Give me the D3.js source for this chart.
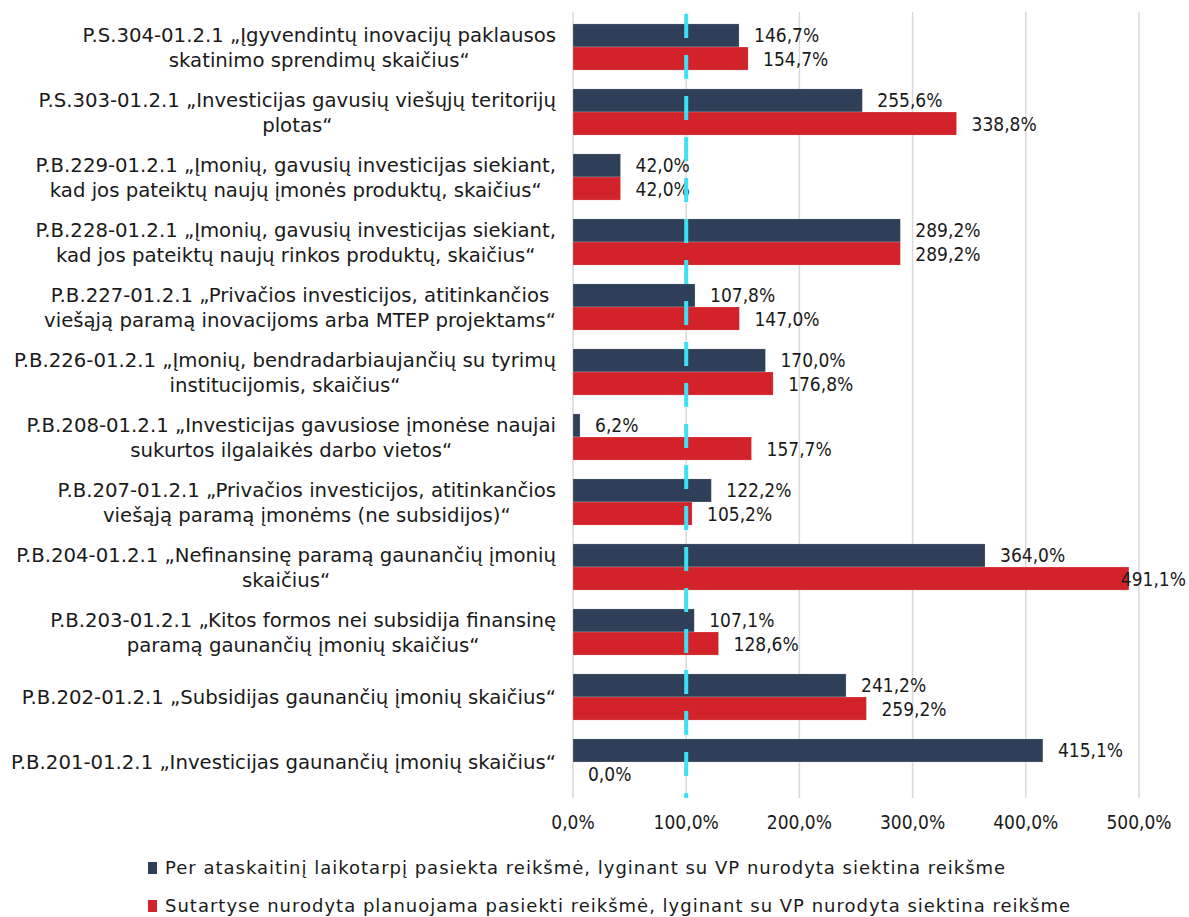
<!DOCTYPE html>
<html>
<head>
<meta charset="utf-8">
<script src="https://cdn.jsdelivr.net/npm/d3@7/dist/d3.min.js"></script>
<style>
  body { margin: 0; background: #fff; }
  text { font-family: "DejaVu Sans Condensed", "DejaVu Sans", sans-serif; fill: #1a1a1a; }
  .cat, .leg { font-family: "DejaVu Sans", sans-serif; }
</style>
</head>
<body>
<div id="chart"></div>
<script>
// Data
var categories = [
  ["P.S.304-01.2.1 „Įgyvendintų inovacijų paklausos", "skatinimo sprendimų skaičius“"],
  ["P.S.303-01.2.1 „Investicijas gavusių viešųjų teritorijų", "plotas“"],
  ["P.B.229-01.2.1 „Įmonių, gavusių investicijas siekiant,", "kad jos pateiktų naujų įmonės produktų, skaičius“"],
  ["P.B.228-01.2.1 „Įmonių, gavusių investicijas siekiant,", "kad jos pateiktų naujų rinkos produktų, skaičius“"],
  ["P.B.227-01.2.1 „Privačios investicijos, atitinkančios", "viešąją paramą inovacijoms arba MTEP projektams“"],
  ["P.B.226-01.2.1 „Įmonių, bendradarbiaujančių su tyrimų", "institucijomis, skaičius“"],
  ["P.B.208-01.2.1 „Investicijas gavusiose įmonėse naujai", "sukurtos ilgalaikės darbo vietos“"],
  ["P.B.207-01.2.1 „Privačios investicijos, atitinkančios", "viešąją paramą įmonėms (ne subsidijos)“"],
  ["P.B.204-01.2.1 „Nefinansinę paramą gaunančių įmonių", "skaičius“"],
  ["P.B.203-01.2.1 „Kitos formos nei subsidija finansinę", "paramą gaunančių įmonių skaičius“"],
  ["P.B.202-01.2.1 „Subsidijas gaunančių įmonių skaičius“"],
  ["P.B.201-01.2.1 „Investicijas gaunančių įmonių skaičius“"]
];
var achieved = [146.7, 255.6, 42.0, 289.2, 107.8, 170.0, 6.2, 122.2, 364.0, 107.1, 241.2, 415.1];
var planned  = [154.7, 338.8, 42.0, 289.2, 147.0, 176.8, 157.7, 105.2, 491.1, 128.6, 259.2, 0.0];
var seriesNames = [
  "Per ataskaitinį laikotarpį pasiekta reikšmė, lyginant su VP nurodyta siektina reikšme",
  "Sutartyse nurodyta planuojama pasiekti reikšmė, lyginant su VP nurodyta siektina reikšme"
];
var ticks = [0, 100, 200, 300, 400, 500];
var targetLine = 100;
var colors = ["#2f3f57", "#d2232a"];

var W = 1189, H = 917;
var svg = d3.select("#chart").append("svg").attr("width", W).attr("height", H);

var x = d3.scaleLinear().domain([0, 500]).range([573, 1139]);
var y = d3.scaleBand().domain(d3.range(categories.length)).range([14.5, 794.5])
  .paddingInner(0.29).paddingOuter(0.145);
var ySub = d3.scaleBand().domain([0, 1]).range([0, y.bandwidth()]);

var fmt = function(v) { return v.toFixed(1).replace(".", ",") + "%"; };

// gridlines
svg.append("g").selectAll("line").data(ticks).join("line")
  .attr("x1", d => x(d)).attr("x2", d => x(d))
  .attr("y1", 12).attr("y2", 798)
  .attr("stroke", "#d9d9d9").attr("stroke-width", 1.5);

// tick labels
svg.append("g").selectAll("text").data(ticks).join("text")
  .attr("x", d => x(d)).attr("y", 829)
  .attr("text-anchor", "middle").attr("font-size", 19)
  .text(d => fmt(d));

// bars
var rows = categories.map((c, i) => ({i: i, vals: [achieved[i], planned[i]]}));
var g = svg.append("g").selectAll("g").data(rows).join("g")
  .attr("transform", d => "translate(0," + y(d.i) + ")");

g.selectAll("rect").data(d => d.vals.map((v, s) => ({v: v, s: s}))).join("rect")
  .attr("x", x(0)).attr("y", d => ySub(d.s))
  .attr("width", d => x(d.v) - x(0)).attr("height", ySub.bandwidth())
  .attr("fill", d => colors[d.s])
  .attr("stroke", "rgba(255,255,255,0.4)").attr("stroke-width", 0.5);

// 100% dashed target line
svg.append("line")
  .attr("x1", x(targetLine)).attr("x2", x(targetLine))
  .attr("y1", 14).attr("y2", 798)
  .attr("stroke", "#3fdff4").attr("stroke-width", 4)
  .attr("stroke-dasharray", "24,17");

// value labels
g.selectAll("text.val").data(d => d.vals.map((v, s) => ({v: v, s: s}))).join("text")
  .attr("class", "val")
  .attr("y", d => ySub(d.s) + ySub.bandwidth() / 2 + 7)
  .attr("font-size", 19)
  .text(d => fmt(d.v))
  .attr("x", function(d) {
    var w = this.getComputedTextLength();
    return Math.min(x(d.v) + 15, W - w - 3);
  });

// category labels (centred lines, block right-aligned)
var labelRight = 556;
categories.forEach(function(lines, i) {
  var grp = svg.append("g");
  var lh = 25;
  var cy = y(i) + y.bandwidth() / 2;
  var t = grp.selectAll("text").data(lines).join("text")
    .attr("class", "cat")
    .attr("font-size", 19.7)
    .attr("y", (d, k) => cy + (k - (lines.length - 1) / 2) * lh + 7)
    .text(d => d);
  var maxW = d3.max(t.nodes(), n => n.getComputedTextLength());
  t.attr("text-anchor", "middle").attr("x", labelRight - maxW / 2);
});

// legend
seriesNames.forEach(function(name, s) {
  var ly = 868 + s * 38;
  svg.append("rect").attr("x", 148).attr("y", ly - 6).attr("width", 9).attr("height", 12)
    .attr("fill", colors[s]);
  svg.append("text").attr("class", "leg").attr("x", 165).attr("y", ly + 6)
    .attr("font-size", 18).attr("letter-spacing", 1.0).text(name);
});
</script>
</body>
</html>
